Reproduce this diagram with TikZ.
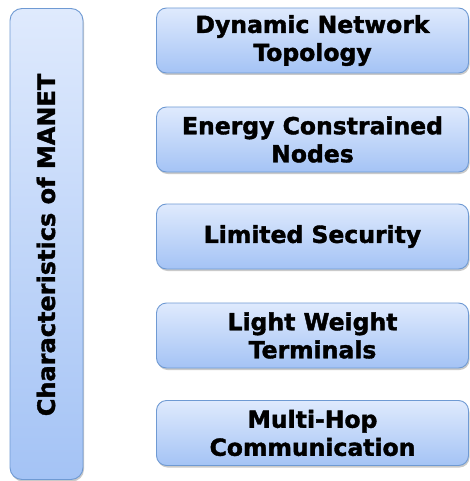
\documentclass[tikz,border=0pt]{standalone}
\usepackage{fontspec}
\setmainfont{DejaVu Sans}[BoldFeatures={FakeBold=1.6}]
\usetikzlibrary{shadows}
\definecolor{topc}{HTML}{DFEAFD}
\definecolor{botc}{HTML}{A4C3F5}
\definecolor{edgec}{HTML}{6F9AD3}
\tikzset{
  card/.style={draw=edgec, line width=0.9pt, rounded corners=10pt,
    top color=topc, bottom color=botc,
    drop shadow={shadow xshift=1pt, shadow yshift=-2pt, opacity=0.35, fill=black!60},
    minimum width=312pt, minimum height=65pt, align=center,
    font=\fontsize{23.5}{28}\selectfont\bfseries, inner sep=0pt},
  bar/.style={draw=edgec, line width=0.9pt, rounded corners=12pt,
    top color=topc, bottom color=botc,
    drop shadow={shadow xshift=1pt, shadow yshift=-2pt, opacity=0.35, fill=black!60},
    minimum width=73pt, minimum height=471pt, inner sep=0pt},
  barlabel/.style={rotate=90, font=\fontsize{24}{28}\selectfont\bfseries, inner sep=0pt}
}
\begin{document}
\begin{tikzpicture}[x=1pt,y=-1pt]
\useasboundingbox (0,0) rectangle (470,481);
\node[bar] (bar) at (46.5,244) {};
\node[barlabel] (lbl) at (46,245) {Characteristics of MANET};
\node[card] (c1) at (312.5,40.5) {Dynamic Network\\Topology};
\node[card] (c2) at (312.5,139.5) {Energy Constrained\\Nodes};
\node[card] (c3) at (312.5,236.5) {Limited Security};
\node[card] (c4) at (312.5,335.5) {Light Weight\\Terminals};
\node[card] (c5) at (312.5,433) {Multi-Hop\\Communication};
\end{tikzpicture}
\end{document}
